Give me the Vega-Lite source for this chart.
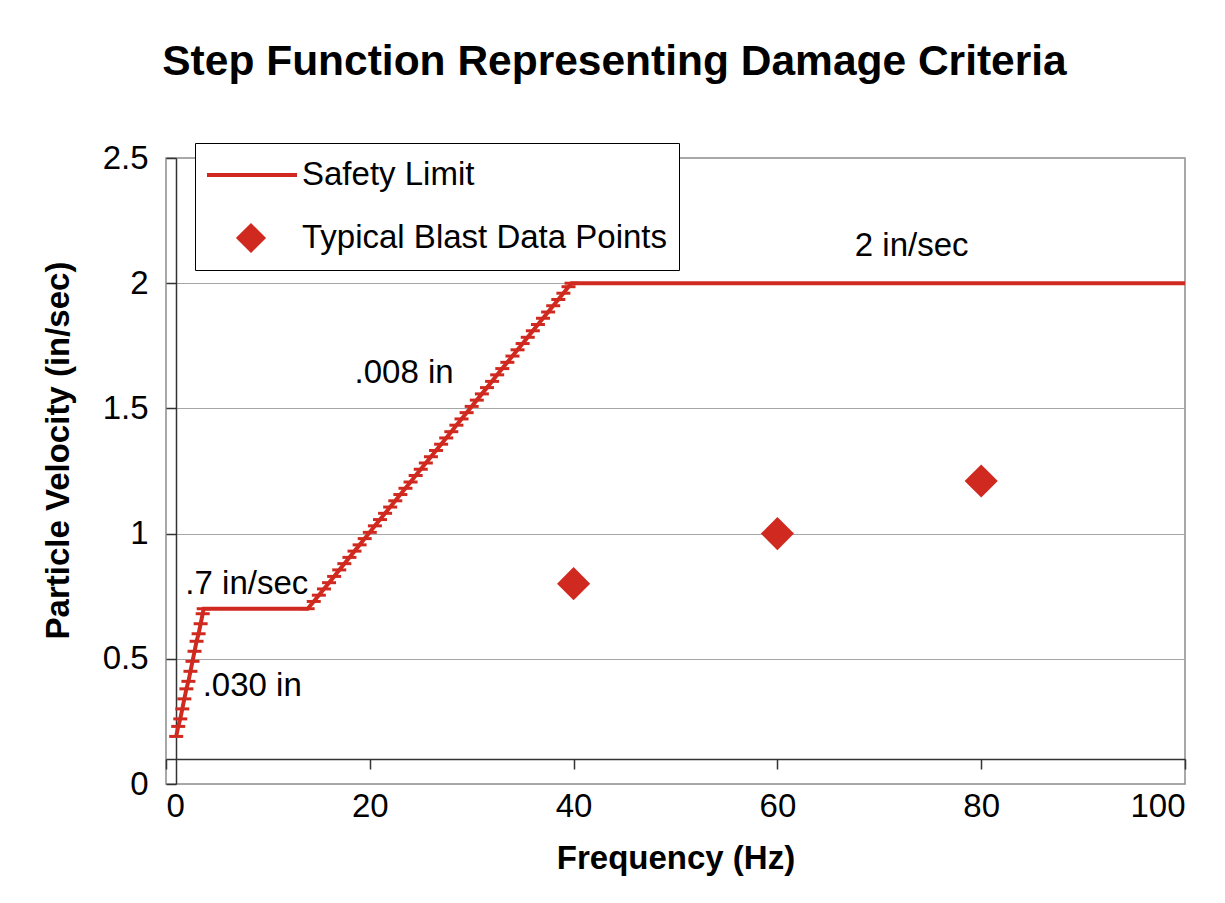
{
  "$schema": "https://vega.github.io/schema/vega-lite/v6.json",
  "width": 1019,
  "height": 626,
  "autosize": {"type": "none"},
  "padding": {"left": 166, "top": 158, "right": 40, "bottom": 119},
  "background": "#ffffff",
  "title": {
    "text": "Step Function Representing Damage Criteria",
    "font": "Liberation Sans",
    "fontSize": 42.5,
    "fontWeight": "bold",
    "color": "#000000",
    "anchor": "middle",
    "frame": "group",
    "dx": -61,
    "dy": -25,
    "baseline": "alphabetic",
    "offset": 0
  },
  "config": {
    "font": "Liberation Sans",
    "view": {"stroke": "#8c8c8c", "strokeWidth": 1.5}
  },
  "datasets": {
    "limit": [
      {"frequency": 1.0, "velocity": 0.19, "series": "Safety Limit", "segment": ".030 in"},
      {"frequency": 1.2, "velocity": 0.23, "series": "Safety Limit", "segment": ".030 in"},
      {"frequency": 1.4, "velocity": 0.26, "series": "Safety Limit", "segment": ".030 in"},
      {"frequency": 1.6, "velocity": 0.30, "series": "Safety Limit", "segment": ".030 in"},
      {"frequency": 1.8, "velocity": 0.34, "series": "Safety Limit", "segment": ".030 in"},
      {"frequency": 2.0, "velocity": 0.38, "series": "Safety Limit", "segment": ".030 in"},
      {"frequency": 2.2, "velocity": 0.41, "series": "Safety Limit", "segment": ".030 in"},
      {"frequency": 2.4, "velocity": 0.45, "series": "Safety Limit", "segment": ".030 in"},
      {"frequency": 2.6, "velocity": 0.49, "series": "Safety Limit", "segment": ".030 in"},
      {"frequency": 2.8, "velocity": 0.53, "series": "Safety Limit", "segment": ".030 in"},
      {"frequency": 3.0, "velocity": 0.57, "series": "Safety Limit", "segment": ".030 in"},
      {"frequency": 3.2, "velocity": 0.60, "series": "Safety Limit", "segment": ".030 in"},
      {"frequency": 3.4, "velocity": 0.64, "series": "Safety Limit", "segment": ".030 in"},
      {"frequency": 3.6, "velocity": 0.68, "series": "Safety Limit", "segment": ".030 in"},
      {"frequency": 3.7, "velocity": 0.70, "series": "Safety Limit", "segment": ".030 in"},
      {"frequency": 13.9, "velocity": 0.70, "series": "Safety Limit", "segment": ".008 in"},
      {"frequency": 14.5, "velocity": 0.729, "series": "Safety Limit", "segment": ".008 in"},
      {"frequency": 15.0, "velocity": 0.754, "series": "Safety Limit", "segment": ".008 in"},
      {"frequency": 15.5, "velocity": 0.779, "series": "Safety Limit", "segment": ".008 in"},
      {"frequency": 16.0, "velocity": 0.804, "series": "Safety Limit", "segment": ".008 in"},
      {"frequency": 16.5, "velocity": 0.829, "series": "Safety Limit", "segment": ".008 in"},
      {"frequency": 17.0, "velocity": 0.855, "series": "Safety Limit", "segment": ".008 in"},
      {"frequency": 17.5, "velocity": 0.880, "series": "Safety Limit", "segment": ".008 in"},
      {"frequency": 18.0, "velocity": 0.905, "series": "Safety Limit", "segment": ".008 in"},
      {"frequency": 18.5, "velocity": 0.930, "series": "Safety Limit", "segment": ".008 in"},
      {"frequency": 19.0, "velocity": 0.955, "series": "Safety Limit", "segment": ".008 in"},
      {"frequency": 19.5, "velocity": 0.980, "series": "Safety Limit", "segment": ".008 in"},
      {"frequency": 20.0, "velocity": 1.005, "series": "Safety Limit", "segment": ".008 in"},
      {"frequency": 20.5, "velocity": 1.031, "series": "Safety Limit", "segment": ".008 in"},
      {"frequency": 21.0, "velocity": 1.056, "series": "Safety Limit", "segment": ".008 in"},
      {"frequency": 21.5, "velocity": 1.081, "series": "Safety Limit", "segment": ".008 in"},
      {"frequency": 22.0, "velocity": 1.106, "series": "Safety Limit", "segment": ".008 in"},
      {"frequency": 22.5, "velocity": 1.131, "series": "Safety Limit", "segment": ".008 in"},
      {"frequency": 23.0, "velocity": 1.156, "series": "Safety Limit", "segment": ".008 in"},
      {"frequency": 23.5, "velocity": 1.181, "series": "Safety Limit", "segment": ".008 in"},
      {"frequency": 24.0, "velocity": 1.206, "series": "Safety Limit", "segment": ".008 in"},
      {"frequency": 24.5, "velocity": 1.232, "series": "Safety Limit", "segment": ".008 in"},
      {"frequency": 25.0, "velocity": 1.257, "series": "Safety Limit", "segment": ".008 in"},
      {"frequency": 25.5, "velocity": 1.282, "series": "Safety Limit", "segment": ".008 in"},
      {"frequency": 26.0, "velocity": 1.307, "series": "Safety Limit", "segment": ".008 in"},
      {"frequency": 26.5, "velocity": 1.332, "series": "Safety Limit", "segment": ".008 in"},
      {"frequency": 27.0, "velocity": 1.357, "series": "Safety Limit", "segment": ".008 in"},
      {"frequency": 27.5, "velocity": 1.382, "series": "Safety Limit", "segment": ".008 in"},
      {"frequency": 28.0, "velocity": 1.407, "series": "Safety Limit", "segment": ".008 in"},
      {"frequency": 28.5, "velocity": 1.433, "series": "Safety Limit", "segment": ".008 in"},
      {"frequency": 29.0, "velocity": 1.458, "series": "Safety Limit", "segment": ".008 in"},
      {"frequency": 29.5, "velocity": 1.483, "series": "Safety Limit", "segment": ".008 in"},
      {"frequency": 30.0, "velocity": 1.508, "series": "Safety Limit", "segment": ".008 in"},
      {"frequency": 30.5, "velocity": 1.533, "series": "Safety Limit", "segment": ".008 in"},
      {"frequency": 31.0, "velocity": 1.558, "series": "Safety Limit", "segment": ".008 in"},
      {"frequency": 31.5, "velocity": 1.583, "series": "Safety Limit", "segment": ".008 in"},
      {"frequency": 32.0, "velocity": 1.608, "series": "Safety Limit", "segment": ".008 in"},
      {"frequency": 32.5, "velocity": 1.634, "series": "Safety Limit", "segment": ".008 in"},
      {"frequency": 33.0, "velocity": 1.659, "series": "Safety Limit", "segment": ".008 in"},
      {"frequency": 33.5, "velocity": 1.684, "series": "Safety Limit", "segment": ".008 in"},
      {"frequency": 34.0, "velocity": 1.709, "series": "Safety Limit", "segment": ".008 in"},
      {"frequency": 34.5, "velocity": 1.734, "series": "Safety Limit", "segment": ".008 in"},
      {"frequency": 35.0, "velocity": 1.759, "series": "Safety Limit", "segment": ".008 in"},
      {"frequency": 35.5, "velocity": 1.784, "series": "Safety Limit", "segment": ".008 in"},
      {"frequency": 36.0, "velocity": 1.810, "series": "Safety Limit", "segment": ".008 in"},
      {"frequency": 36.5, "velocity": 1.835, "series": "Safety Limit", "segment": ".008 in"},
      {"frequency": 37.0, "velocity": 1.860, "series": "Safety Limit", "segment": ".008 in"},
      {"frequency": 37.5, "velocity": 1.885, "series": "Safety Limit", "segment": ".008 in"},
      {"frequency": 38.0, "velocity": 1.910, "series": "Safety Limit", "segment": ".008 in"},
      {"frequency": 38.5, "velocity": 1.935, "series": "Safety Limit", "segment": ".008 in"},
      {"frequency": 39.0, "velocity": 1.960, "series": "Safety Limit", "segment": ".008 in"},
      {"frequency": 39.5, "velocity": 1.986, "series": "Safety Limit", "segment": ".008 in"},
      {"frequency": 39.8, "velocity": 2.0, "series": "Safety Limit", "segment": ".008 in"},
      {"frequency": 100.0, "velocity": 2.0, "series": "Safety Limit", "segment": "2 in/sec"}
    ],
    "blast": [
      {"frequency": 40, "velocity": 0.8, "series": "Typical Blast Data Points"},
      {"frequency": 60, "velocity": 1.0, "series": "Typical Blast Data Points"},
      {"frequency": 80, "velocity": 1.21, "series": "Typical Blast Data Points"}
    ],
    "notes": [
      {"frequency": 1.9, "velocity": 0.80, "label": ".7 in/sec"},
      {"frequency": 3.6, "velocity": 0.39, "label": ".030 in"},
      {"frequency": 18.5, "velocity": 1.64, "label": ".008 in"},
      {"frequency": 67.6, "velocity": 2.15, "label": "2 in/sec"}
    ]
  },
  "layer": [
    {
      "data": {"name": "limit"},
      "mark": {"type": "line", "strokeWidth": 4},
      "encoding": {
        "x": {
          "field": "frequency", "type": "quantitative",
          "scale": {"domain": [0, 100], "nice": false, "zero": false},
          "axis": {
            "orient": "bottom", "values": [0, 20, 40, 60, 80, 100],
            "domain": false, "ticks": false, "grid": false,
            "labelFontSize": 33, "labelColor": "#000000", "labelPadding": 6,
            "labelFont": "Liberation Sans",
            "title": "Frequency (Hz)", "titleFontSize": 33, "titleFontWeight": "bold",
            "titleColor": "#000000", "titleFont": "Liberation Sans",
            "titleBaseline": "middle", "titleY": 74
          }
        },
        "y": {
          "field": "velocity", "type": "quantitative",
          "scale": {"domain": [0, 2.5], "nice": false},
          "axis": {
            "orient": "left", "values": [0, 0.5, 1, 1.5, 2, 2.5], "format": "~g",
            "domain": false, "ticks": false, "grid": true,
            "gridColor": "#a6a6a6", "gridWidth": 1.2,
            "labelFontSize": 33, "labelColor": "#000000", "labelPadding": 18,
            "labelFont": "Liberation Sans",
            "title": "Particle Velocity (in/sec)", "titleFontSize": 33, "titleFontWeight": "bold",
            "titleColor": "#000000", "titleFont": "Liberation Sans",
            "titleAngle": -90, "titleAlign": "center", "titleBaseline": "middle",
            "titleX": -108, "titleY": 292
          }
        },
        "color": {
          "field": "series", "type": "nominal",
          "scale": {"domain": ["Safety Limit", "Typical Blast Data Points"], "range": ["#d02a20", "#d02a20"]},
          "legend": {
            "orient": "none", "legendX": 29, "legendY": -15,
            "title": null,
            "strokeColor": "#000000", "fillColor": "#ffffff",
            "padding": 12,
            "labelFontSize": 33, "labelColor": "#000000", "labelFont": "Liberation Sans",
            "labelOffset": 62, "labelLimit": 0,
            "symbolType": "stroke", "symbolSize": 8464, "symbolStrokeWidth": 4,
            "clipHeight": 40, "rowPadding": 23,
            "encode": {
              "symbols": {
                "update": {
                  "shape": {"signal": "datum.value === 'Safety Limit' ? 'stroke' : 'diamond'"},
                  "size": {"signal": "datum.value === 'Safety Limit' ? 8464 : 600"},
                  "x": {"value": 44},
                  "fill": {"signal": "datum.value === 'Safety Limit' ? 'transparent' : '#d02a20'"},
                  "stroke": {"signal": "datum.value === 'Safety Limit' ? '#d02a20' : 'transparent'"},
                  "strokeWidth": {"value": 4},
                  "opacity": {"value": 1}
                }
              }
            }
          }
        }
      }
    },
    {
      "data": {"name": "limit"},
      "transform": [{"filter": "datum.segment !== '2 in/sec'"}],
      "mark": {"type": "point", "shape": "stroke", "size": 196, "strokeWidth": 3, "filled": false, "opacity": 1},
      "encoding": {
        "x": {
          "field": "frequency", "type": "quantitative",
          "axis": {
            "orient": "bottom", "offset": -25, "values": [0, 20, 40, 60, 80, 100],
            "domain": true, "domainColor": "#333333", "domainWidth": 1.5,
            "ticks": true, "tickColor": "#333333", "tickWidth": 1.5, "tickSize": 10,
            "labels": false, "grid": false, "title": null
          }
        },
        "y": {
          "field": "velocity", "type": "quantitative",
          "axis": {
            "orient": "left", "offset": -10, "values": [0, 0.5, 1, 1.5, 2, 2.5],
            "domain": true, "domainColor": "#333333", "domainWidth": 1.5,
            "ticks": true, "tickColor": "#333333", "tickWidth": 1.5, "tickSize": 10,
            "labels": false, "grid": false, "title": null
          }
        },
        "color": {"field": "series", "type": "nominal"}
      }
    },
    {
      "data": {"name": "blast"},
      "mark": {"type": "point", "shape": "diamond", "size": 1100, "filled": true, "opacity": 1},
      "encoding": {
        "x": {"field": "frequency", "type": "quantitative", "axis": null},
        "y": {"field": "velocity", "type": "quantitative", "axis": null},
        "color": {"field": "series", "type": "nominal"}
      }
    },
    {
      "data": {"name": "notes"},
      "mark": {"type": "text", "align": "left", "baseline": "middle", "fontSize": 33, "font": "Liberation Sans", "color": "#000000"},
      "encoding": {
        "x": {"field": "frequency", "type": "quantitative", "axis": null},
        "y": {"field": "velocity", "type": "quantitative", "axis": null},
        "text": {"field": "label"}
      }
    }
  ],
  "resolve": {"axis": {"x": "independent", "y": "independent"}}
}
